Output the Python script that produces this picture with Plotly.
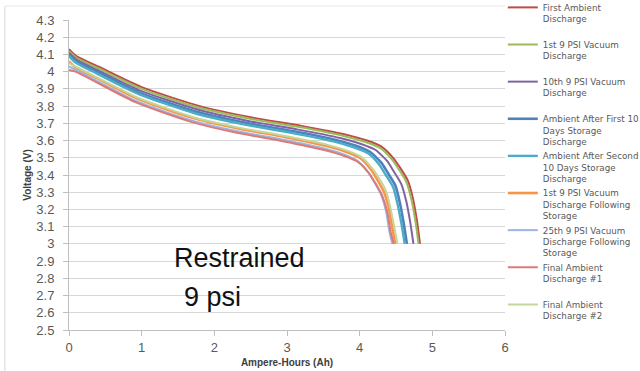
import plotly.graph_objects as go

# ---------------- data ----------------
series_names = [
    "First Ambient<br>Discharge<br> ",
    "1st 9 PSI Vacuum<br>Discharge<br> ",
    "10th 9 PSI Vacuum<br>Discharge<br> ",
    "Ambient After First 10<br>Days Storage<br>Discharge",
    "Ambient After Second<br>10 Days Storage<br>Discharge",
    "1st 9 PSI Vacuum<br>Discharge Following<br>Storage",
    "25th 9 PSI Vacuum<br>Discharge Following<br>Storage",
    "Final Ambient<br>Discharge #1<br> ",
    "Final Ambient<br>Discharge #2<br> ",
]

ah_first_ambient = [0, 0.1, 0.4, 1.0, 1.8, 2.5, 3.2, 3.8, 4.1, 4.3, 4.46, 4.56, 4.66, 4.73, 4.79, 4.83]
v_first_ambient = [4.13, 4.09, 4.03, 3.91, 3.80, 3.735, 3.685, 3.635, 3.60, 3.565, 3.50, 3.44, 3.37, 3.27, 3.13, 3.0]

ah_1st_vac = [0, 0.1, 0.4, 1.0, 1.79, 2.49, 3.19, 3.78, 4.08, 4.28, 4.44, 4.54, 4.64, 4.71, 4.77, 4.81]
v_1st_vac = [4.12, 4.08, 4.02, 3.90, 3.79, 3.727, 3.677, 3.627, 3.592, 3.557, 3.492, 3.432, 3.362, 3.262, 3.125, 3.0]

ah_10th_vac = [0, 0.1, 0.39, 0.98, 1.77, 2.45, 3.14, 3.73, 4.02, 4.22, 4.38, 4.47, 4.57, 4.64, 4.70, 4.74]
v_10th_vac = [4.11, 4.07, 4.01, 3.89, 3.78, 3.715, 3.665, 3.615, 3.58, 3.545, 3.48, 3.42, 3.35, 3.25, 3.115, 3.0]

ah_after_first = [0, 0.1, 0.39, 0.96, 1.73, 2.41, 3.08, 3.66, 3.95, 4.14, 4.30, 4.39, 4.49, 4.55, 4.61, 4.65]
v_after_first = [4.10, 4.06, 4.00, 3.88, 3.77, 3.705, 3.655, 3.605, 3.57, 3.535, 3.47, 3.41, 3.34, 3.245, 3.11, 3.0]

ah_after_second = [0, 0.1, 0.38, 0.96, 1.72, 2.39, 3.06, 3.64, 3.92, 4.12, 4.27, 4.36, 4.46, 4.52, 4.58, 4.62]
v_after_second = [4.09, 4.05, 3.99, 3.87, 3.76, 3.695, 3.645, 3.595, 3.56, 3.525, 3.46, 3.40, 3.33, 3.235, 3.105, 3.0]

ah_1st_vac_storage = [0, 0.09, 0.37, 0.93, 1.67, 2.33, 2.98, 3.53, 3.81, 4.0, 4.15, 4.24, 4.33, 4.40, 4.45, 4.49]
v_1st_vac_storage = [4.06, 4.025, 3.965, 3.845, 3.735, 3.67, 3.62, 3.57, 3.535, 3.50, 3.435, 3.375, 3.305, 3.21, 3.09, 3.0]

ah_25th_vac_storage = [0, 0.09, 0.37, 0.92, 1.66, 2.30, 2.95, 3.50, 3.78, 3.96, 4.11, 4.20, 4.29, 4.36, 4.41, 4.45]
v_25th_vac_storage = [4.03, 4.01, 3.95, 3.83, 3.72, 3.655, 3.605, 3.555, 3.52, 3.485, 3.42, 3.36, 3.29, 3.195, 3.07, 3.0]

ah_final_1 = [0, 0.09, 0.37, 0.93, 1.67, 2.31, 2.96, 3.51, 3.79, 3.98, 4.13, 4.22, 4.31, 4.38, 4.43, 4.47]
v_final_1 = [4.01, 4.0, 3.94, 3.82, 3.71, 3.645, 3.595, 3.545, 3.51, 3.475, 3.41, 3.35, 3.28, 3.185, 3.06, 3.0]

ah_final_2 = [0, 0.09, 0.37, 0.94, 1.68, 2.34, 3.0, 3.56, 3.84, 4.02, 4.17, 4.27, 4.36, 4.42, 4.48, 4.52]
v_final_2 = [4.05, 4.03, 3.97, 3.85, 3.74, 3.675, 3.625, 3.575, 3.54, 3.505, 3.44, 3.38, 3.31, 3.215, 3.09, 3.0]

x_series = [ah_first_ambient, ah_1st_vac, ah_10th_vac, ah_after_first, ah_after_second,
            ah_1st_vac_storage, ah_25th_vac_storage, ah_final_1, ah_final_2]
y_series = [v_first_ambient, v_1st_vac, v_10th_vac, v_after_first, v_after_second,
            v_1st_vac_storage, v_25th_vac_storage, v_final_1, v_final_2]

y_tick_vals = [2.5, 2.6, 2.7, 2.8, 2.9, 3.0, 3.1, 3.2, 3.3, 3.4, 3.5, 3.6, 3.7, 3.8, 3.9, 4.0, 4.1, 4.2, 4.3]
y_tick_text = ["2.5", "2.6", "2.7", "2.8", "2.9", "3", "3.1", "3.2", "3.3", "3.4", "3.5",
               "3.6", "3.7", "3.8", "3.9", "4", "4.1", "4.2", "4.3"]
x_tick_vals = [0, 1, 2, 3, 4, 5, 6]

# ---------------- styling ----------------
colors = ["#BE4B48", "#9BBB59", "#8064A2", "#4F81BD", "#4BACC6",
          "#F79646", "#9DB3E3", "#DA7B7A", "#C3D69B"]
widths = [2, 2, 2, 2.6, 2.4, 2.6, 2, 2, 2]

fig = go.Figure()
for name, xs, ys, c, w in zip(series_names, x_series, y_series, colors, widths):
    fig.add_trace(go.Scatter(x=xs, y=ys, mode="lines", name=name,
                             line=dict(color=c, width=w, shape="spline", smoothing=0.6)))

tick_font = dict(family="Liberation Sans Narrow, Liberation Sans, Arial", size=13, color="#595959")

fig.update_layout(
    width=640, height=371,
    margin=dict(l=69, r=135, t=20, b=41, autoexpand=False),
    paper_bgcolor="white", plot_bgcolor="white",
    showlegend=True,
    legend=dict(x=0.995, y=1.08, xanchor="left", yanchor="top",
                font=dict(family="DejaVu Sans, Open Sans, Arial", size=8.75, color="#595959"),
                valign="top", itemwidth=30, tracegroupgap=0, maxheight=400,
                bgcolor="rgba(0,0,0,0)"),
    xaxis=dict(range=[0, 6], tickvals=x_tick_vals, showgrid=False, zeroline=False,
               showline=True, linecolor="#BFBFBF", linewidth=1,
               ticks="outside", ticklen=5, tickcolor="#BFBFBF",
               tickfont=tick_font,
               title=dict(text="<b>Ampere-Hours (Ah)</b>",
                          font=dict(family="Liberation Sans, Arial", size=10, color="#404040"),
                          standoff=5)),
    yaxis=dict(range=[2.5, 4.3], tickvals=y_tick_vals, ticktext=y_tick_text,
               showgrid=True, gridcolor="#D6D6D6", gridwidth=1.3, zeroline=False,
               showline=True, linecolor="#BFBFBF", linewidth=1,
               ticks="outside", ticklen=5, tickcolor="#BFBFBF", ticklabelstandoff=6,
               tickfont=tick_font,
               title=dict(text="<b>Voltage (V)</b>",
                          font=dict(family="Liberation Sans, Arial", size=10, color="#404040"),
                          standoff=2)),
)

# chart-area border (left and top)
fig.add_shape(type="line", xref="paper", yref="paper",
              x0=-0.147, x1=-0.147, y0=1.045, y1=-0.2,
              line=dict(color="#D9D9D9", width=1))
fig.add_shape(type="line", xref="paper", yref="paper",
              x0=-0.147, x1=1.0, y0=1.045, y1=1.045,
              line=dict(color="#E6E6E6", width=1))

# "Restrained 9 psi" label
label_font = dict(family="Liberation Sans, Arial", size=27, color="#111111")
fig.add_annotation(x=1.42, y=2.918, xref="x", yref="y", text="Restrained",
                   showarrow=False, xanchor="left", yanchor="middle", font=label_font)
fig.add_annotation(x=1.55, y=2.69, xref="x", yref="y", text="9 psi",
                   showarrow=False, xanchor="left", yanchor="middle", font=label_font)

fig.write_html("out.html", config={"displayModeBar": False},
               post_script="document.body.style.margin='0';")
